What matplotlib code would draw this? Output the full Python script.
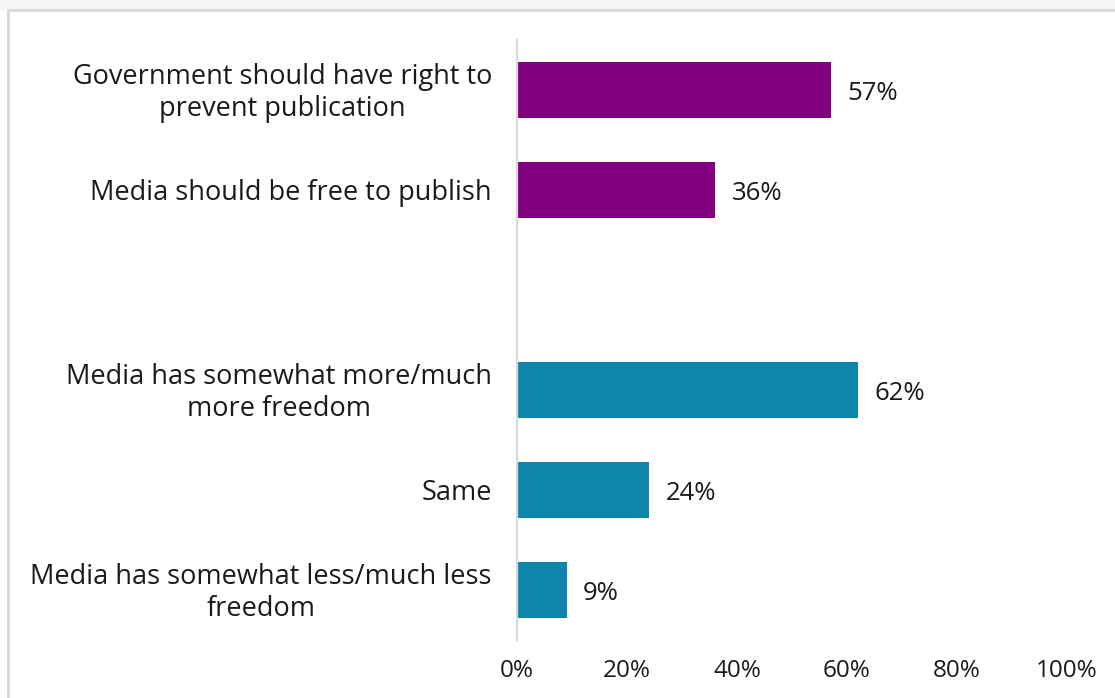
import matplotlib
matplotlib.use("Agg")
import matplotlib.pyplot as plt
from matplotlib.patches import Rectangle

categories = [
    "Government should have right to\nprevent publication",
    "Media should be free to publish",
    "",
    "Media has somewhat more/much\nmore freedom",
    "Same",
    "Media has somewhat less/much less\nfreedom",
]
values = [57, 36, None, 62, 24, 9]
colors = ["#800080", "#800080", None, "#1085AB", "#1085AB", "#1085AB"]
x_ticks = [0, 20, 40, 60, 80, 100]
x_tick_labels = ["0%", "20%", "40%", "60%", "80%", "100%"]

plt.rcParams["font.family"] = ["Open Sans", "DejaVu Sans"]

W, H = 1115, 698
fig = plt.figure(figsize=(W / 100, H / 100), dpi=100)
fig.patch.set_facecolor("white")

# faint band along the top edge and the chart frame
fig.patches.append(Rectangle((0, 1 - 10 / H), 1, 10 / H, transform=fig.transFigure,
                             facecolor="#F8F6F4", edgecolor="none", zorder=0))
fig.patches.append(Rectangle((7.5 / W, -0.1), 1.2, 1 - 10.5 / H + 0.1,
                             transform=fig.transFigure, facecolor="none",
                             edgecolor="#D9D9D9", linewidth=2.2, zorder=1))

ax = fig.add_axes([517 / W, 1 - 640 / H, 550 / W, 600 / H])
ax.set_xlim(0, 100)
ax.set_ylim(len(categories) - 0.5, -0.5)

for i, (v, c) in enumerate(zip(values, colors)):
    if v is None:
        continue
    ax.barh(i, v, height=0.56, color=c)
    ax.text(v + 3.0, i + 0.03, f"{v}%", va="center", ha="left",
            fontsize=18.5, color="#1a1a1a")

# category labels: block right-aligned to the axis, lines centred within
ax.set_yticks([])
for i, lab in enumerate(categories):
    if lab:
        ax.text(-25 / 550 * 100, i + 0.03, lab, ha="right", va="center",
                multialignment="center", fontsize=19.5, color="#1a1a1a",
                linespacing=1.16)

ax.set_xticks(x_ticks)
ax.set_xticklabels(x_tick_labels, fontsize=17.5, color="#1a1a1a")

ax.tick_params(axis="both", length=0)
ax.tick_params(axis="x", pad=14)
for s in ["top", "right", "bottom"]:
    ax.spines[s].set_visible(False)
ax.spines["left"].set_color("#D9D9D9")
ax.spines["left"].set_linewidth(1.6)

fig.savefig("out.png", dpi=100)
